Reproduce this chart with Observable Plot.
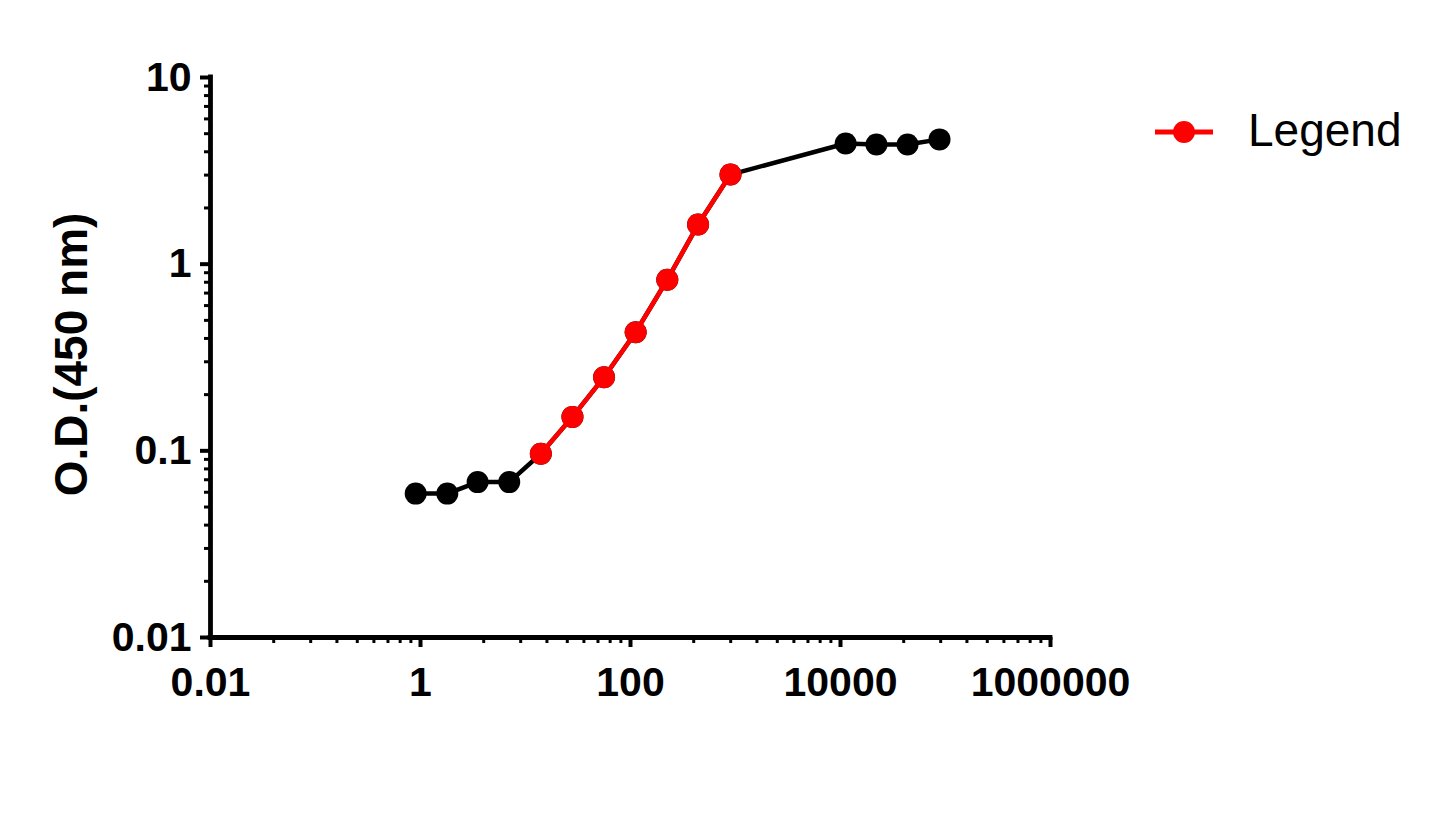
<!DOCTYPE html>
<html>
<head>
<meta charset="utf-8">
<script src="https://cdn.jsdelivr.net/npm/d3@7"></script>
<script src="https://cdn.jsdelivr.net/npm/@observablehq/plot@0.6"></script>
<style>
  html, body { margin: 0; padding: 0; background: #fff; }
  #wrap { position: relative; width: 1445px; height: 826px; }
  #legend-swatch { position: absolute; left: 1153px; top: 110px; }
  #legend-text { position: absolute; left: 1248px; top: 107px; font: 400 46px/46px "Liberation Sans", Arial, sans-serif; color: #000; white-space: nowrap; }
</style>
</head>
<body>
<div id="wrap"></div>
<script>
// ---- data ----
const dilution = [0.9, 1.8, 3.5, 7, 14, 28, 56, 112, 224, 440, 896, 11200, 22000, 43500, 87700];
const od       = [0.059, 0.059, 0.068, 0.068, 0.0965, 0.152, 0.248, 0.432, 0.825, 1.63, 3.02, 4.43, 4.38, 4.38, 4.66];
const inRange  = [false, false, false, false, true, true, true, true, true, true, true, false, false, false, false];

const xTicks = [0.01, 1, 100, 10000, 1000000];
const xTickLabels = ["0.01", "1", "100", "10000", "1000000"];
const yTicks = [0.01, 0.1, 1, 10];
const yTickLabels = ["0.01", "0.1", "1", "10"];
const yTitle = "O.D.(450 nm)";
const legendLabel = "Legend";

// minor ticks: x uses k^2 steps inside each 100x interval, y uses standard 2..9
const xMinor = [];
for (const base of [0.01, 1, 100, 10000]) for (let k = 2; k <= 9; k++) xMinor.push(base * k * k);
const yMinor = [];
for (const base of [0.01, 0.1, 1]) for (let k = 2; k <= 9; k++) yMinor.push(base * k);

const data = dilution.map((x, i) => ({x, y: od[i], inRange: inRange[i]}));
const redData = data.filter(d => d.inRange);

const RED = "#ff0000";
const FONT = "'Liberation Sans', Arial, sans-serif";

const chart = Plot.plot({
  width: 1445,
  height: 826,
  marginLeft: 210,
  marginRight: 395,
  marginTop: 77,
  marginBottom: 189,
  style: {fontFamily: FONT, background: "#fff", color: "#000", overflow: "visible"},
  x: {type: "log", domain: [0.01, 1e6]},
  y: {type: "log", domain: [0.01, 10]},
  marks: [
    Plot.axisX({ticks: xMinor, tickSize: 6, strokeWidth: 3, tickFormat: () => "", label: null}),
    Plot.axisY({ticks: yMinor, tickSize: 6, strokeWidth: 3, tickFormat: () => "", label: null}),
    Plot.axisX({ticks: xTicks, tickSize: 10, strokeWidth: 4, tickPadding: 19, fontSize: 41, fontWeight: "bold",
      tickFormat: d => xTickLabels[xTicks.indexOf(d)], label: null}),
    Plot.axisY({ticks: yTicks, tickSize: 10, strokeWidth: 4, tickPadding: 9, fontSize: 41, fontWeight: "bold",
      tickFormat: d => yTickLabels[yTicks.indexOf(d)], label: null}),
    Plot.ruleX([0.01], {strokeWidth: 4.8, strokeLinecap: "square"}),
    Plot.ruleY([0.01], {strokeWidth: 4.8, strokeLinecap: "square"}),
    Plot.text([yTitle], {frameAnchor: "left", text: d => d, rotate: -90, dx: -138, dy: -3, fontSize: 46, fontWeight: "bold",
      textAnchor: "middle", lineAnchor: "middle", fill: "#000"}),
    Plot.line(data, {x: "x", y: "y", stroke: "#000", strokeWidth: 4.5}),
    Plot.dot(data, {x: "x", y: "y", r: 11, fill: "#000", stroke: "none"}),
    Plot.line(redData, {x: "x", y: "y", stroke: RED, strokeWidth: 4.5}),
    Plot.dot(redData, {x: "x", y: "y", r: 11, fill: RED, stroke: "none"})
  ]
});

const wrap = document.getElementById("wrap");
wrap.appendChild(chart);

// legend (HTML overlay to the right of the plot)
const sw = d3.create("svg").attr("id", "legend-swatch").attr("width", 62).attr("height", 44);
sw.append("line").attr("x1", 2).attr("x2", 60).attr("y1", 22).attr("y2", 22).attr("stroke", RED).attr("stroke-width", 5);
sw.append("circle").attr("cx", 31).attr("cy", 22).attr("r", 11).attr("fill", RED);
wrap.appendChild(sw.node());
const lt = document.createElement("span");
lt.id = "legend-text";
lt.textContent = legendLabel;
wrap.appendChild(lt);
</script>
</body>
</html>
